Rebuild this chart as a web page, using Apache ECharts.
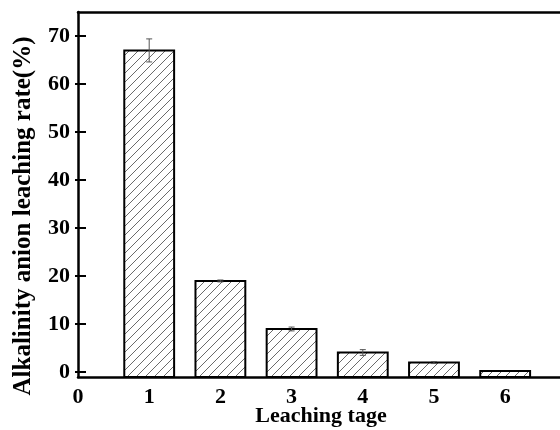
<!DOCTYPE html>
<html>
<head>
<meta charset="utf-8">
<script src="https://cdn.jsdelivr.net/npm/echarts@6/dist/echarts.min.js"></script>
<style>html,body{margin:0;padding:0;background:#fff}#c{width:560px;height:430px}</style>
</head>
<body>
<div id="c"></div>
<script>
var stages = [1, 2, 3, 4, 5, 6];
var rates = [67.0, 19.0, 9.0, 4.1, 2.0, 0.25];
var errors = [2.4, 0.2, 0.4, 0.6, 0.2, 0.0];
var yTicks = [0, 10, 20, 30, 40, 50, 60, 70];
var xTicks = [0, 1, 2, 3, 4, 5, 6];
var xTitle = 'Leaching tage';
var yTitle = 'Alkalinity anion leaching rate(%)';

var FONT = '"Liberation Serif","Times New Roman",serif';

// hatch pattern
var T = 9;
var pc = document.createElement('canvas');
pc.width = T; pc.height = T;
var g = pc.getContext('2d');
g.fillStyle = '#fff'; g.fillRect(0, 0, T, T);
g.strokeStyle = '#6a6a6a'; g.lineWidth = 1;
g.beginPath();
g.moveTo(0, T); g.lineTo(T, 0);
g.moveTo(-1, 1); g.lineTo(1, -1);
g.moveTo(T - 1, T + 1); g.lineTo(T + 1, T - 1);
g.stroke();

var data = stages.map(function (s, i) { return [s, rates[i], errors[i]]; });
var chart = echarts.init(document.getElementById('c'));
var YMIN = -1, YMAX = 75;
chart.setOption({
  animation: false,
  grid: { left: 78, top: 12, right: 0, bottom: 53, containLabel: false, outerBoundsMode: 'none' },
  xAxis: [{
    type: 'value', min: 0, max: 6.77, position: 'bottom',
    axisLine: { show: true, onZero: false, lineStyle: { color: '#000', width: 2.5 } },
    axisTick: { show: false },
    splitLine: { show: false },
    axisLabel: { customValues: xTicks, color: '#000', fontFamily: FONT, fontWeight: 'bold', fontSize: 22, margin: 9 }
  }, {
    type: 'value', min: 0, max: 6.77, position: 'top',
    axisLine: { show: true, onZero: false, lineStyle: { color: '#000', width: 2.5 } },
    axisTick: { show: false }, axisLabel: { show: false }, splitLine: { show: false }
  }],
  yAxis: [{
    type: 'value', min: YMIN, max: YMAX, position: 'left',
    axisLine: { show: true, onZero: false, lineStyle: { color: '#000', width: 2.5 } },
    axisTick: { show: true, inside: true, length: 8, customValues: yTicks, lineStyle: { color: '#000', width: 2 } },
    splitLine: { show: false },
    axisLabel: { customValues: yTicks, color: '#000', fontFamily: FONT, fontWeight: 'bold', fontSize: 22, margin: 8 }
  }, {
    type: 'value', min: YMIN, max: YMAX, position: 'left',
    axisLine: { show: false, onZero: false },
    axisTick: { show: true, inside: false, length: 3, customValues: yTicks, lineStyle: { color: '#000', width: 2 } },
    splitLine: { show: false },
    axisLabel: { show: false }
  }],
  graphic: [{
    type: 'text', x: 24, y: 216, rotation: Math.PI / 2,
    style: { text: yTitle, font: 'bold 25px ' + FONT, fill: '#000', align: 'center', verticalAlign: 'middle' }
  }, {
    type: 'text', x: 321, y: 416,
    style: { text: xTitle, font: 'bold 22px ' + FONT, fill: '#000', align: 'center', verticalAlign: 'middle' }
  }],
  series: [{
    type: 'custom',
    xAxisIndex: 0, yAxisIndex: 0,
    data: data,
    renderItem: function (params, api) {
      var x = api.value(0), v = api.value(1), e = api.value(2);
      var w = api.size([0.7, 0])[0];
      var top = api.coord([x, v]);
      var base = api.coord([x, YMIN]);
      var hi = api.coord([x, v + e]);
      var lo = api.coord([x, v - e]);
      var children = [{
        type: 'rect',
        shape: { x: top[0] - w / 2, y: top[1], width: w, height: base[1] - top[1] },
        style: { fill: { image: pc, repeat: 'repeat' }, stroke: '#000', lineWidth: 2 }
      }];
      if (e > 0) {
        children.push({ type: 'line', shape: { x1: hi[0], y1: hi[1], x2: lo[0], y2: lo[1] }, style: { stroke: '#555', lineWidth: 1 } });
        children.push({ type: 'line', shape: { x1: hi[0] - 3, y1: hi[1], x2: hi[0] + 3, y2: hi[1] }, style: { stroke: '#555', lineWidth: 1 } });
        children.push({ type: 'line', shape: { x1: lo[0] - 3, y1: lo[1], x2: lo[0] + 3, y2: lo[1] }, style: { stroke: '#555', lineWidth: 1 } });
      }
      return { type: 'group', children: children };
    }
  }]
});
</script>
</body>
</html>
